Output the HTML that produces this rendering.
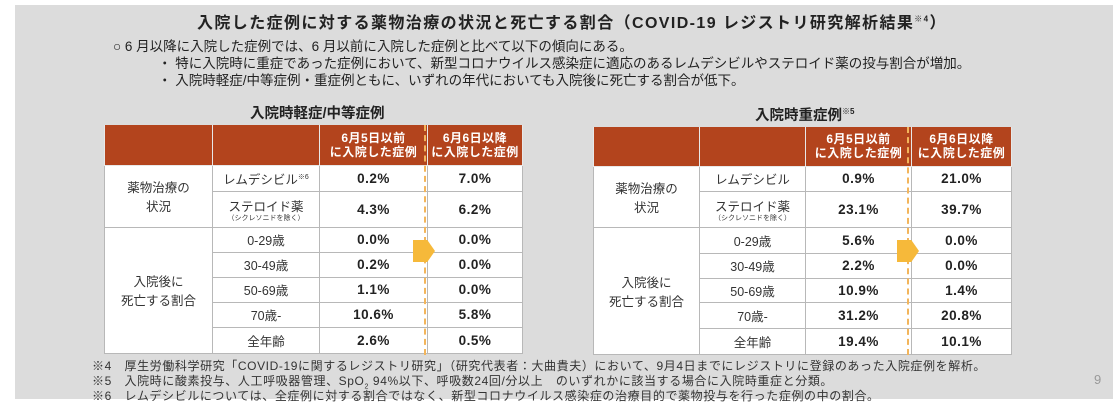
<!DOCTYPE html>
<html><head><meta charset="utf-8"><style>
body{margin:0;width:1113px;height:405px;background:#fff;position:relative;overflow:hidden;font-family:"Liberation Sans","Noto Sans CJK JP",sans-serif;color:#222}
#bg{position:absolute;left:15px;top:5px;width:1098px;height:394px;background:#dcdcdc}
.t{position:absolute;white-space:nowrap}
table{position:absolute;border-collapse:collapse;background:#fff;font-size:12.5px}
td{border:1px solid #b8b8b8;text-align:center;padding:0;color:#333}
th{background:#b3441d;color:#fff;font-size:12px;font-weight:bold;line-height:14px;border:1px solid #e8e8e8;border-top:none;padding:0;letter-spacing:0.5px}
td.v{font-weight:bold;font-size:13.5px;color:#222;letter-spacing:0.5px}
.s{font-size:7px;display:block;line-height:8px}
.arrow{position:absolute;width:22px;height:22px;background:#f6b93a;clip-path:polygon(0 0,65% 0,100% 50%,65% 100%,0 100%)}
.dash{position:absolute;width:0;border-left:2px dashed #f3b55b}
.fn{font-size:12px;color:#333;letter-spacing:0.6px}
</style></head><body>
<div id="bg"></div>
<div class="t" style="left:197px;top:9px;font-size:16px;font-weight:bold;letter-spacing:1.4px">入院した症例に対する薬物治療の状況と死亡する割合（COVID-19 レジストリ研究解析結果<sup style="font-size:8px">※4</sup>）</div>
<div class="t" style="left:113px;top:35px;font-size:13.5px">○ 6 月以降に入院した症例では、6 月以前に入院した症例と比べて以下の傾向にある。</div>
<div class="t" style="left:158px;top:52px;font-size:13.5px">・ 特に入院時に重症であった症例において、新型コロナウイルス感染症に適応のあるレムデシビルやステロイド薬の投与割合が増加。</div>
<div class="t" style="left:158px;top:69px;font-size:13.5px">・ 入院時軽症/中等症例・重症例ともに、いずれの年代においても入院後に死亡する割合が低下。</div>
<div class="t" style="left:250px;top:102px;font-size:14.5px;font-weight:bold">入院時軽症/中等症例</div>
<div class="t" style="left:755px;top:104px;font-size:14.5px;font-weight:bold">入院時重症例<sup style="font-size:8px">※5</sup></div>

<table style="left:104px;top:125px;width:419px">
<tr style="height:40px"><th style="width:107px"></th><th style="width:106px"></th><th style="width:107px">6月5日以前<br>に入院した症例</th><th>6月6日以降<br>に入院した症例</th></tr>
<tr style="height:26px"><td rowspan="2">薬物治療の<br>状況</td><td>レムデシビル<sup style="font-size:7px">※6</sup></td><td class="v">0.2%</td><td class="v">7.0%</td></tr>
<tr style="height:36px"><td>ステロイド薬<span class="s">（シクレソニドを除く）</span></td><td class="v">4.3%</td><td class="v">6.2%</td></tr>
<tr style="height:25px"><td rowspan="5">入院後に<br>死亡する割合</td><td>0-29歳</td><td class="v">0.0%</td><td class="v">0.0%</td></tr>
<tr style="height:25px"><td>30-49歳</td><td class="v">0.2%</td><td class="v">0.0%</td></tr>
<tr style="height:25px"><td>50-69歳</td><td class="v">1.1%</td><td class="v">0.0%</td></tr>
<tr style="height:25px"><td>70歳-</td><td class="v">10.6%</td><td class="v">5.8%</td></tr>
<tr style="height:26px"><td>全年齢</td><td class="v">2.6%</td><td class="v">0.5%</td></tr>
</table>
<div class="dash" style="left:424px;top:125px;height:230px"></div>
<div class="arrow" style="left:413px;top:240px"></div>

<table style="left:593px;top:127px;width:419px">
<tr style="height:39px"><th style="width:105px"></th><th style="width:105px"></th><th style="width:105px">6月5日以前<br>に入院した症例</th><th>6月6日以降<br>に入院した症例</th></tr>
<tr style="height:25px"><td rowspan="2">薬物治療の<br>状況</td><td>レムデシビル</td><td class="v">0.9%</td><td class="v">21.0%</td></tr>
<tr style="height:36px"><td>ステロイド薬<span class="s">（シクレソニドを除く）</span></td><td class="v">23.1%</td><td class="v">39.7%</td></tr>
<tr style="height:26px"><td rowspan="5">入院後に<br>死亡する割合</td><td>0-29歳</td><td class="v">5.6%</td><td class="v">0.0%</td></tr>
<tr style="height:25px"><td>30-49歳</td><td class="v">2.2%</td><td class="v">0.0%</td></tr>
<tr style="height:24px"><td>50-69歳</td><td class="v">10.9%</td><td class="v">1.4%</td></tr>
<tr style="height:26px"><td>70歳-</td><td class="v">31.2%</td><td class="v">20.8%</td></tr>
<tr style="height:26px"><td>全年齢</td><td class="v">19.4%</td><td class="v">10.1%</td></tr>
</table>
<div class="dash" style="left:907px;top:127px;height:228px"></div>
<div class="arrow" style="left:897px;top:240px"></div>

<div class="t fn" style="left:92px;top:357px">※4　厚生労働科学研究「COVID-19に関するレジストリ研究」（研究代表者：大曲貴夫）において、9月4日までにレジストリに登録のあった入院症例を解析。</div>
<div class="t fn" style="left:92px;top:372px">※5　入院時に酸素投与、人工呼吸器管理、SpO<sub style="font-size:7px">2</sub> 94%以下、呼吸数24回/分以上　のいずれかに該当する場合に入院時重症と分類。</div>
<div class="t fn" style="left:92px;top:387px">※6　レムデシビルについては、全症例に対する割合ではなく、新型コロナウイルス感染症の治療目的で薬物投与を行った症例の中の割合。</div>
<div class="t" style="left:1094px;top:372px;font-size:13px;color:#999">9</div>
</body></html>
